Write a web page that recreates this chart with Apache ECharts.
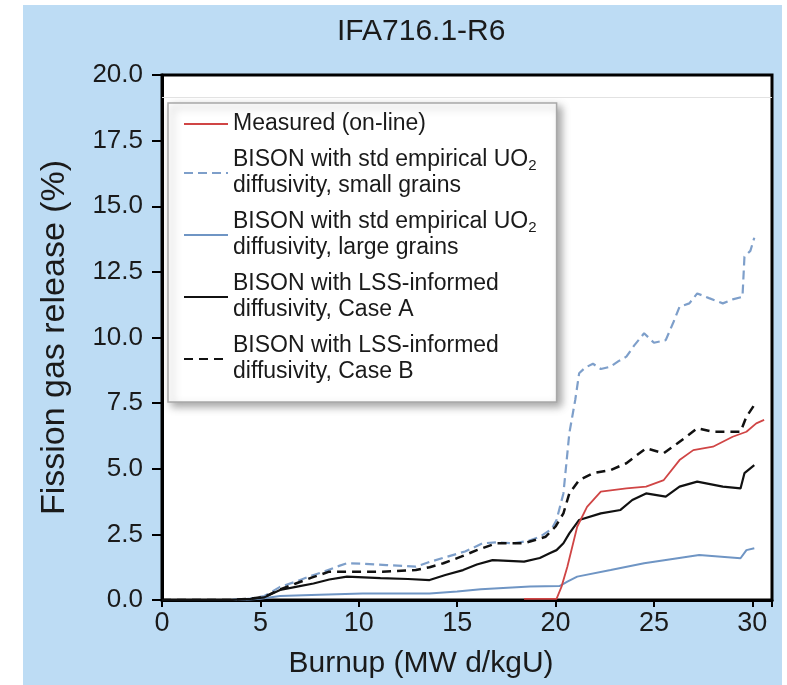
<!DOCTYPE html>
<html>
<head>
<meta charset="utf-8">
<script src="https://cdn.jsdelivr.net/npm/echarts@6/dist/echarts.min.js"></script>
<style>
  html, body { margin: 0; padding: 0; background: #ffffff; }
  #chart { position: absolute; left: 23px; top: 5px; width: 759px; height: 680px; }
</style>
</head>
<body>
<div id="chart"></div>
<script>
// ---- data ----
const titleText = 'IFA716.1-R6';
const xAxisName = 'Burnup (MW d/kgU)';
const yAxisName = 'Fission gas release (%)';

const seriesNames = [
  'Measured (on-line)',
  'BISON small grains',
  'BISON large grains',
  'BISON LSS Case A',
  'BISON LSS Case B'
];
const legendLabels = [
  'Measured (on-line)',
  'BISON with std empirical UO{sub|2}\ndiffusivity, small grains',
  'BISON with std empirical UO{sub|2}\ndiffusivity, large grains',
  'BISON with LSS-informed\ndiffusivity, Case A',
  'BISON with LSS-informed\ndiffusivity, Case B'
];

const measured = [[18.4,0.04],[20.05,0.04],[20.3,0.5],[20.6,1.27],[21.1,2.79],[21.6,3.55],[22.3,4.13],[23.6,4.25],[24.6,4.32],[25.5,4.57],[26.3,5.33],[27.0,5.71],[28.0,5.84],[29.0,6.22],[29.7,6.41],[30.2,6.73],[30.6,6.86]];

const smallGrains = [[0,0],[3.5,0],[4.5,0.05],[5.2,0.15],[6.0,0.5],[6.8,0.7],[7.5,0.9],[8.3,1.1],[9.0,1.3],[9.4,1.4],[10.2,1.38],[11.4,1.33],[12.2,1.3],[12.9,1.27],[13.6,1.45],[14.5,1.65],[15.4,1.85],[16.3,2.16],[17.0,2.2],[17.9,2.16],[18.6,2.25],[19.2,2.41],[19.8,2.7],[20.05,3.05],[20.4,4.06],[20.7,6.35],[21.0,7.62],[21.2,8.64],[21.5,8.85],[21.9,9.0],[22.3,8.8],[22.8,8.89],[23.2,9.1],[23.6,9.27],[24.0,9.7],[24.5,10.16],[25.0,9.8],[25.6,9.9],[26.0,10.6],[26.3,11.17],[26.8,11.3],[27.2,11.68],[27.8,11.5],[28.5,11.3],[29.0,11.45],[29.5,11.55],[29.6,13.08],[29.9,13.3],[30.1,13.8]];

const largeGrains = [[0,0],[4,0],[5,0.05],[6.0,0.15],[8,0.2],[10.2,0.25],[13.6,0.25],[15,0.32],[16.2,0.41],[18.7,0.51],[20.2,0.53],[20.6,0.7],[21.1,0.89],[22.8,1.14],[24.5,1.40],[26.2,1.59],[27.3,1.71],[29.4,1.59],[29.7,1.90],[30.1,1.97]];

const caseA = [[0,0],[3.5,0],[4.5,0.04],[5.2,0.1],[6.0,0.38],[6.8,0.5],[7.7,0.63],[8.5,0.78],[9.4,0.89],[11.1,0.83],[12.5,0.8],[13.6,0.76],[14.4,0.95],[15.3,1.14],[16.0,1.35],[16.8,1.52],[18.4,1.46],[19.2,1.6],[19.7,1.78],[20.05,1.9],[20.4,2.16],[20.7,2.54],[21.2,3.05],[22.3,3.3],[23.3,3.43],[23.9,3.81],[24.6,4.06],[25.6,3.94],[26.3,4.32],[27.2,4.51],[28.5,4.32],[29.4,4.25],[29.6,4.83],[30.1,5.14]];

const caseB = [[0,0],[3.5,0],[4.5,0.05],[5.2,0.12],[6.0,0.4],[6.8,0.63],[7.6,0.85],[8.5,1.08],[9.9,1.08],[11.2,1.08],[12.9,1.14],[13.6,1.25],[14.3,1.40],[15.2,1.65],[16.0,1.9],[17.0,2.16],[18.4,2.16],[19.5,2.41],[20.0,2.8],[20.4,3.3],[20.7,4.06],[21.2,4.57],[21.9,4.83],[22.8,4.95],[23.6,5.21],[24.1,5.5],[24.6,5.78],[25.5,5.59],[26.2,5.97],[26.7,6.25],[27.2,6.54],[28.0,6.41],[29.4,6.41],[29.7,6.98],[30.1,7.43]];

const xTicks = [0, 5, 10, 15, 20, 25, 30];
const yTicks = [0, 2.5, 5, 7.5, 10, 12.5, 15, 17.5, 20];
const faintLineValue = 19.15;

// ---- chart ----
const FONT = '"Liberation Sans", Arial, Helvetica, sans-serif';
const chart = echarts.init(document.getElementById('chart'), null, { renderer: 'canvas' });

const labelMap = {};
seriesNames.forEach((n, i) => { labelMap[n] = legendLabels[i]; });

function lineSeries(name, data, color, width, type, z) {
  return {
    name: name,
    type: 'line',
    data: data,
    symbol: 'none',
    smooth: false,
    z: z,
    lineStyle: { color: color, width: width, type: type },
    itemStyle: { color: color }
  };
}

const option = {
  backgroundColor: '#bddcf4',
  animation: false,
  title: {
    text: titleText,
    left: 314,
    top: 12,
    padding: 0,
    textStyle: { fontFamily: FONT, fontSize: 30, fontWeight: 'normal', color: '#1a1a1a' }
  },
  grid: {
    left: 139, top: 70, width: 610, height: 525,
    show: true, backgroundColor: '#ffffff', borderColor: '#000000', borderWidth: 3,
    containLabel: false
  },
  legend: {
    orient: 'vertical',
    left: 145, top: 98,
    data: seriesNames,
    formatter: (name) => labelMap[name],
    itemWidth: 44, itemHeight: 14, itemGap: 10,
    padding: [8, 20, 17, 15],
    backgroundColor: '#ffffff',
    borderColor: '#a8a8a8', borderWidth: 1.5,
    shadowBlur: 8, shadowColor: 'rgba(0,0,0,0.35)', shadowOffsetX: 4, shadowOffsetY: 4,
    itemStyle: { color: 'rgba(0,0,0,0)', borderWidth: 0, opacity: 0 },
    textStyle: {
      fontFamily: FONT, fontSize: 23, lineHeight: 26, color: '#1a1a1a',
      rich: { sub: { fontFamily: FONT, fontSize: 15, lineHeight: 26, verticalAlign: 'bottom', color: '#1a1a1a' } }
    },
    selectedMode: false
  },
  xAxis: {
    type: 'value', min: 0, max: 31, interval: 5,
    name: xAxisName, nameLocation: 'middle', nameGap: 49,
    nameTextStyle: { fontFamily: FONT, fontSize: 30, color: '#1a1a1a', padding: [0, 92, 0, 0] },
    axisLine: { show: true, lineStyle: { color: '#000', width: 3 } },
    axisTick: { show: true, length: 7, lineStyle: { color: '#000', width: 2 } },
    axisLabel: {
      margin: 10, fontFamily: FONT, fontSize: 27, color: '#1a1a1a',
      formatter: (v) => (xTicks.indexOf(v) >= 0 ? String(v) : '')
    },
    splitLine: { show: false }
  },
  yAxis: {
    type: 'value', min: 0, max: 20, interval: 2.5,
    name: yAxisName, nameLocation: 'middle', nameGap: 90,
    nameTextStyle: { fontFamily: FONT, fontSize: 34, color: '#1a1a1a' },
    axisLine: { show: true, lineStyle: { color: '#000', width: 3 } },
    axisTick: { show: true, length: 10, lineStyle: { color: '#000', width: 2 } },
    axisLabel: {
      margin: 19, fontFamily: FONT, fontSize: 26, color: '#1a1a1a',
      formatter: (v) => (yTicks.indexOf(v) >= 0 ? v.toFixed(1) : '')
    },
    splitLine: { show: false }
  },
  series: [
    Object.assign(lineSeries(seriesNames[0], measured, '#d04545', 1.8, 'solid', 6), {
      markLine: {
        silent: true, symbol: 'none', label: { show: false },
        lineStyle: { color: '#e2e2e2', width: 1, type: 'solid' },
        data: [{ yAxis: faintLineValue }]
      }
    }),
    lineSeries(seriesNames[1], smallGrains, '#7e9fca', 2.2, [9, 5], 3),
    lineSeries(seriesNames[2], largeGrains, '#6f95c4', 2, 'solid', 3),
    lineSeries(seriesNames[3], caseA, '#111111', 2.2, 'solid', 4),
    lineSeries(seriesNames[4], caseB, '#111111', 2.5, [9, 6], 5)
  ]
};

chart.setOption(option);
</script>
</body>
</html>
